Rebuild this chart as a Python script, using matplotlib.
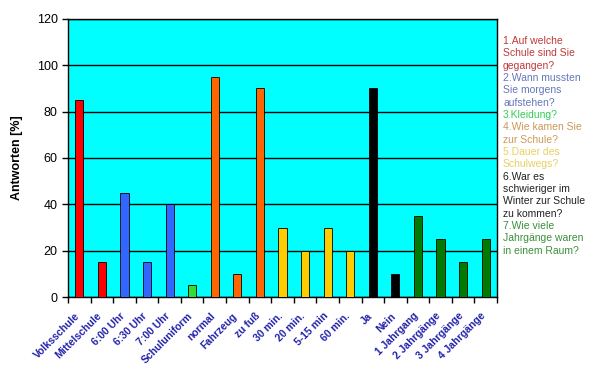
import matplotlib
matplotlib.use("Agg")
import matplotlib.pyplot as plt
import matplotlib.transforms as mtransforms
import numpy as np

plt.rcParams['font.family'] = ['Liberation Sans', 'DejaVu Sans']

categories = ["Volksschule", "Mittelschule", "6:00 Uhr", "6:30 Uhr", "7:00 Uhr",
              "Schuluniform", "normal", "Fahrzeug", "zu fuß", "30 min.", "20 min.",
              "5-15 min", "60 min.", "Ja", "Nein", "1 Jahrgang", "2 Jahrgänge",
              "3 Jahrgänge", "4 Jahrgänge"]
values = [85, 15, 45, 15, 40, 5, 95, 10, 90, 30, 20, 30, 20, 90, 10, 35, 25, 15, 25]
groups = [0, 0, 1, 1, 1, 2, 3, 3, 3, 4, 4, 4, 4, 5, 5, 6, 6, 6, 6]
group_colors = ["#FF0000", "#3366FF", "#33DD33", "#FF6600", "#FFCC00", "#000000", "#007A00"]
legend_lines = [
    ("1.Auf welche\nSchule sind Sie\ngegangen?", "#C0393B"),
    ("2.Wann mussten\nSie morgens\naufstehen?", "#6677BB"),
    ("3.Kleidung?", "#33CC55"),
    ("4.Wie kamen Sie\nzur Schule?", "#CC9955"),
    ("5.Dauer des\nSchulwegs?", "#E8D060"),
    ("6.War es\nschwieriger im\nWinter zur Schule\nzu kommen?", "#222222"),
    ("7.Wie viele\nJahrgänge waren\nin einem Raum?", "#3A8F3A"),
]

fig = plt.figure(figsize=(6.0, 3.73), dpi=100)
ax = fig.add_axes([68/600, 1-297/373, (497-68)/600, (297-19)/373])
ax.set_facecolor("#00FFFF")

x = np.arange(len(categories))
colors = [group_colors[g] for g in groups]
ax.bar(x, values, width=0.36, color=colors, edgecolor="black", linewidth=0.6, zorder=3)

ax.set_xlim(-0.5, len(categories) - 0.5)
ax.set_ylim(0, 120)
ax.set_yticks(np.arange(0, 121, 20))
ax.yaxis.grid(True, color="black", linewidth=1.0, zorder=1)
ax.set_axisbelow(True)

ax.set_xticks(np.arange(-0.5, len(categories) + 0.5, 1.0))
ax.set_xticklabels([])
ax.set_xticks(x, minor=True)
ax.set_xticklabels(categories, minor=True, rotation=45, ha="right", va="top",
                   rotation_mode="anchor", color="#2222AA", fontsize=7.5, fontweight="bold")
ax.tick_params(axis="x", which="minor", length=0, pad=10)
ax.tick_params(axis="x", which="major", length=4, direction="out", width=1)
ax.tick_params(axis="y", length=4, direction="out", labelsize=9, width=1)
offset = mtransforms.ScaledTranslation(-5/100, 0, fig.dpi_scale_trans)
for lab in ax.get_xticklabels(minor=True):
    lab.set_transform(lab.get_transform() + offset)
for s in ax.spines.values():
    s.set_color("black")
    s.set_linewidth(1.0)

ax.set_ylabel("Antworten [%]", fontsize=9, fontweight="bold", labelpad=10)

# legend text
y = 42/373
line_h = 12.35/373
for txt, col in legend_lines:
    n = txt.count("\n") + 1
    fig.text(503/600, 1 - y + 0.5*line_h, txt, color=col, fontsize=7.5,
             va="top", ha="left", linespacing=1.3)
    y += n * line_h

fig.savefig("out.png", dpi=100)
